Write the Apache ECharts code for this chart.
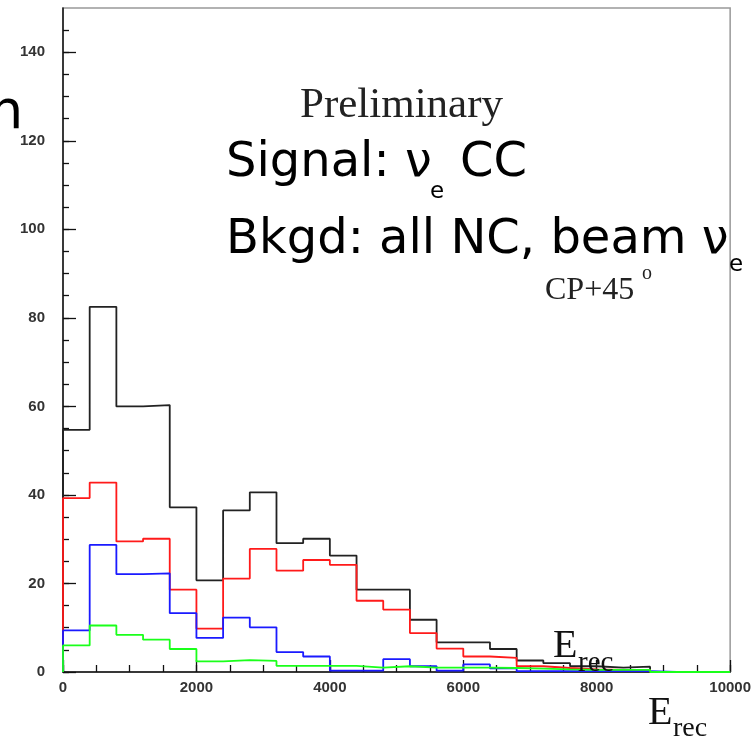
<!DOCTYPE html>
<html>
<head>
<meta charset="utf-8">
<script src="https://cdn.jsdelivr.net/npm/echarts@6/dist/echarts.min.js"></script>
<style>
  html, body { margin: 0; padding: 0; background: #fff; }
  #chart { width: 754px; height: 739px; }
</style>
</head>
<body>
<div id="chart"></div>
<script>
// Bin edges of E_rec histogram
const binEdges = [0, 400, 800, 1200, 1600, 2000, 2400, 2800, 3200, 3600, 4000, 4400, 4800,
  5200, 5600, 6000, 6400, 6800, 7200, 7600, 8000, 8400, 8800, 9200, 9600, 10000];

// Bin contents
const totalBlack = [54.7, 82.5, 60.0, 60.3, 37.2, 20.7, 36.5, 40.6, 29.1, 30.1, 26.3, 18.6, 18.6,
  11.8, 6.7, 6.7, 5.2, 2.6, 2.0, 1.3, 1.0, 1.2, 0, 0, 0];
const signalRed = [39.3, 42.8, 29.5, 30.1, 18.6, 9.8, 21.1, 27.8, 22.9, 25.3, 24.2, 16.1, 14.1,
  8.8, 5.3, 3.5, 3.2, 1.3, 0.9, 0.6, 0.5, 0.5, 0, 0, 0];
const bkgBlue = [9.4, 28.7, 22.1, 22.3, 13.3, 7.7, 12.3, 10.1, 4.5, 3.5, 0.3, 0.3, 2.9,
  1.3, 0.3, 1.7, 0.8, 0.2, 0.2, 0.2, 0.2, 0.2, 0, 0, 0];
const bkgGreen = [6.0, 10.5, 8.4, 7.3, 5.2, 2.4, 2.7, 2.5, 1.4, 1.4, 1.4, 1.0, 1.3,
  1.0, 1.0, 1.0, 0.9, 0.75, 0.6, 0.5, 0.5, 0.5, 0, 0, 0];

const yMajorTicks = [0, 20, 40, 60, 80, 100, 120, 140];
const yMinorTicks = [0, 5, 10, 15, 20, 25, 30, 35, 40, 45, 50, 55, 60, 65, 70, 75, 80, 85, 90, 95,
  100, 105, 110, 115, 120, 125, 130, 135, 140, 145];
const xMajorTicks = [0, 2000, 4000, 6000, 8000, 10000];
const xMinorTicks = [0, 500, 1000, 1500, 2000, 2500, 3000, 3500, 4000, 4500, 5000, 5500, 6000,
  6500, 7000, 7500, 8000, 8500, 9000, 9500, 10000];

function stepPoints(values) {
  const pts = [[binEdges[0], 0]];
  for (let i = 0; i < values.length; i++) {
    pts.push([binEdges[i], values[i]]);
    pts.push([binEdges[i + 1], values[i]]);
  }
  pts.push([binEdges[binEdges.length - 1], 0]);
  return pts;
}

const chart = echarts.init(document.getElementById('chart'), null, { renderer: 'canvas' });

const labelFont = { fontFamily: '"Liberation Sans", Arial, sans-serif', fontWeight: 'bold', fontSize: 15, color: '#333' };

function histSeries(name, values, color) {
  return {
    name: name, type: 'line', data: stepPoints(values), showSymbol: false, symbol: 'none',
    clip: false, animation: false,
    lineStyle: { color: color, width: 1.8 }, z: 3
  };
}

const serif = '"Liberation Serif", "Times New Roman", serif';
const sans = '"DejaVu Sans", sans-serif';

chart.setOption({
  animation: false,
  backgroundColor: '#fff',
  grid: { left: 63, top: 8, right: 22, bottom: 67, show: true, borderColor: '#999', borderWidth: 1.5, backgroundColor: 'transparent' },
  xAxis: [
    {
      type: 'value', min: 0, max: 10000, interval: 2000,
      axisLine: { show: true, onZero: false, lineStyle: { color: '#111', width: 1.5 } },
      axisTick: { show: true, inside: true, length: 12, customValues: xMajorTicks, lineStyle: { color: '#111', width: 1.3 } },
      axisLabel: Object.assign({ show: true, margin: 8, customValues: xMajorTicks, formatter: v => String(v) }, labelFont),
      splitLine: { show: false }
    },
    {
      type: 'value', min: 0, max: 10000, interval: 500, position: 'bottom',
      axisLine: { show: false },
      axisTick: { show: true, inside: true, length: 7, customValues: xMinorTicks, lineStyle: { color: '#111', width: 1.3 } },
      axisLabel: { show: false },
      splitLine: { show: false }
    }
  ],
  yAxis: [
    {
      type: 'value', min: 0, max: 150, interval: 10,
      axisLine: { show: true, onZero: false, lineStyle: { color: '#111', width: 1.5 } },
      axisTick: { show: true, inside: true, length: 13, customValues: yMajorTicks, lineStyle: { color: '#111', width: 1.3 } },
      axisLabel: Object.assign({ show: true, margin: 18, customValues: yMajorTicks, formatter: v => String(v) }, labelFont),
      splitLine: { show: false }
    },
    {
      type: 'value', min: 0, max: 150, interval: 5, position: 'left',
      axisLine: { show: false },
      axisTick: { show: true, inside: true, length: 6, customValues: yMinorTicks, lineStyle: { color: '#111', width: 1.3 } },
      axisLabel: { show: false },
      splitLine: { show: false }
    }
  ],
  series: [
    histSeries('total', totalBlack, '#222'),
    histSeries('signal', signalRed, '#ff1a1a'),
    histSeries('bkg', bkgBlue, '#1a1aff'),
    histSeries('beam', bkgGreen, '#1aff1a')
  ],
  graphic: [
    { type: 'text', x: -11, y: 114, style: { text: 'n', font: '54px ' + sans, fill: '#000', verticalAlign: 'middle' } },
    { type: 'text', x: 300, y: 106, style: { text: 'Preliminary', font: '43px ' + serif, fill: '#222', verticalAlign: 'middle' } },
    { type: 'text', x: 226, y: 164, style: { text: 'Signal: ν', font: '48px ' + sans, fill: '#000', verticalAlign: 'middle' } },
    { type: 'text', x: 430, y: 192, style: { text: 'e', font: '23px ' + sans, fill: '#000', verticalAlign: 'middle' } },
    { type: 'text', x: 460, y: 164, style: { text: 'CC', font: '48px ' + sans, fill: '#000', verticalAlign: 'middle' } },
    { type: 'text', x: 226, y: 241, style: { text: 'Bkgd: all NC, beam ν', font: '48px ' + sans, fill: '#000', verticalAlign: 'middle' } },
    { type: 'text', x: 729, y: 265, style: { text: 'e', font: '23px ' + sans, fill: '#000', verticalAlign: 'middle' } },
    { type: 'text', x: 545, y: 291, style: { text: 'CP+45', font: '32px ' + serif, fill: '#222', verticalAlign: 'middle' } },
    { type: 'text', x: 642, y: 274, style: { text: 'o', font: '20px ' + serif, fill: '#222', verticalAlign: 'middle' } },
    { type: 'text', x: 553, y: 646, z: 10, style: { text: 'E', font: '40px ' + serif, fill: '#111', verticalAlign: 'middle' } },
    { type: 'text', x: 578, y: 663, z: 10, style: { text: 'rec', font: '29px ' + serif, fill: '#111', verticalAlign: 'middle' } },
    { type: 'text', x: 648, y: 713, style: { text: 'E', font: '40px ' + serif, fill: '#111', verticalAlign: 'middle' } },
    { type: 'text', x: 673, y: 729, style: { text: 'rec', font: '28px ' + serif, fill: '#111', verticalAlign: 'middle' } }
  ]
});
</script>
</body>
</html>
